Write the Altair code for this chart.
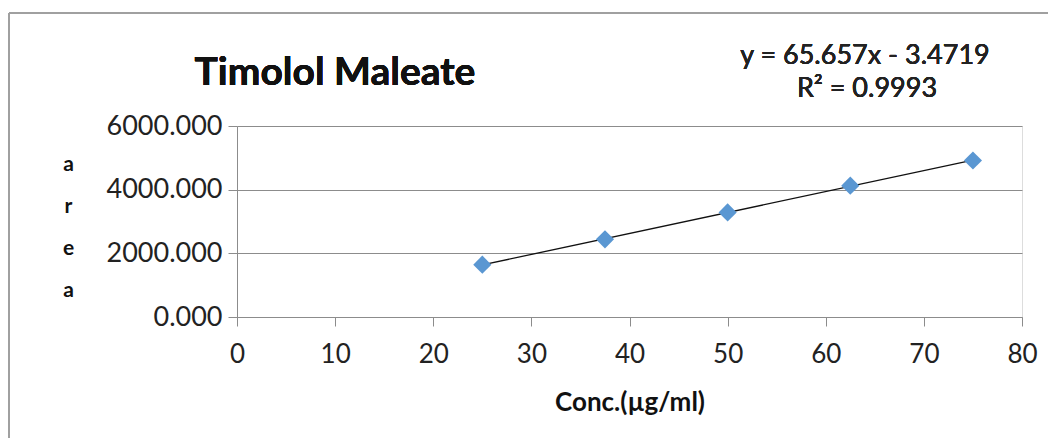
import altair as alt
import pandas as pd

# data
conc = [25, 37.5, 50, 62.5, 75]
area = [1645, 2440, 3285, 4125, 4915]
x_ticks = [0, 10, 20, 30, 40, 50, 60, 70, 80]
y_ticks = [0, 2000, 4000, 6000]
title_text = "Timolol Maleate"
equation_text = "y = 65.657x - 3.4719"
r2_text = "R² = 0.9993"
x_title = "Conc.(µg/ml)"
y_title = ["a", "r", "e", "a"]

df = pd.DataFrame({"conc": conc, "area": area})

FONT = "Lato"
GRAY = "#8c8c8c"
BLUE = "#5A97D2"

xs = alt.Scale(domain=[0, 80], nice=False)
ys = alt.Scale(domain=[0, 6000], nice=False)

base = alt.Chart(df)

points = base.mark_point(shape="diamond", filled=True, size=330, color=BLUE, opacity=1).encode(
    x=alt.X("conc:Q", scale=xs,
            axis=alt.Axis(values=x_ticks, format="d", grid=False, title=x_title,
                          domainColor=GRAY, tickColor=GRAY, tickSize=9,
                          labelFontSize=26, labelFont=FONT, labelColor="#222",
                          labelFontWeight="normal",
                          labelPadding=15, labelFlush=False,
                          titleFont=FONT, titleFontSize=26, titleFontWeight="bold",
                          titleColor="#111", titlePadding=22)),
    y=alt.Y("area:Q", scale=ys,
            axis=alt.Axis(values=y_ticks, format=".3f", grid=True, gridColor=GRAY,
                          domainColor=GRAY, tickColor=GRAY, tickSize=9,
                          labelFontSize=27, labelFont=FONT, labelColor="#222",
                          labelFontWeight="normal", labelPadding=6,
                          title=y_title, titleAngle=0, titleFont=FONT, titleFontSize=21,
                          titleFontWeight="bold", titleColor="#111", titleLineHeight=42,
                          titleX=-169, titleY=27, titleBaseline="top", titleAlign="center")),
)

trend = base.transform_regression("conc", "area").mark_line(color="#111", strokeWidth=1.3).encode(
    x=alt.X("conc:Q", scale=xs), y=alt.Y("area:Q", scale=ys)
)

title = base.mark_text(text=title_text, font=FONT, fontSize=39, fontWeight="bold", color="#111",
                       align="center", baseline="middle").encode(
    x=alt.value(98), y=alt.value(-53))
eq = base.mark_text(text=equation_text, font=FONT, fontSize=27, fontWeight="normal", color="#222",
                    align="center", baseline="middle").encode(
    x=alt.value(628), y=alt.value(-70))
r2 = base.mark_text(text=r2_text, font=FONT, fontSize=27, fontWeight="normal", color="#222",
                    align="center", baseline="middle").encode(
    x=alt.value(630), y=alt.value(-37))

border_top = base.mark_rule(color="#a0a0a0", strokeWidth=1.5).encode(
    x=alt.value(-228), x2=alt.value(811), y=alt.value(-113))
border_left = base.mark_rule(color="#a0a0a0", strokeWidth=1.5).encode(
    x=alt.value(-228), y=alt.value(-113), y2=alt.value(312))

chart = alt.layer(border_top, border_left, trend, points, title, eq, r2).properties(
    width=785, height=191,
    autosize=alt.AutoSizeParams(type="none"),
    padding={"left": 229, "top": 118, "right": 26, "bottom": 121},
).configure_view(stroke=None).configure(background="white")

chart.save("out.html", embed_options={"renderer": "svg", "actions": False})
